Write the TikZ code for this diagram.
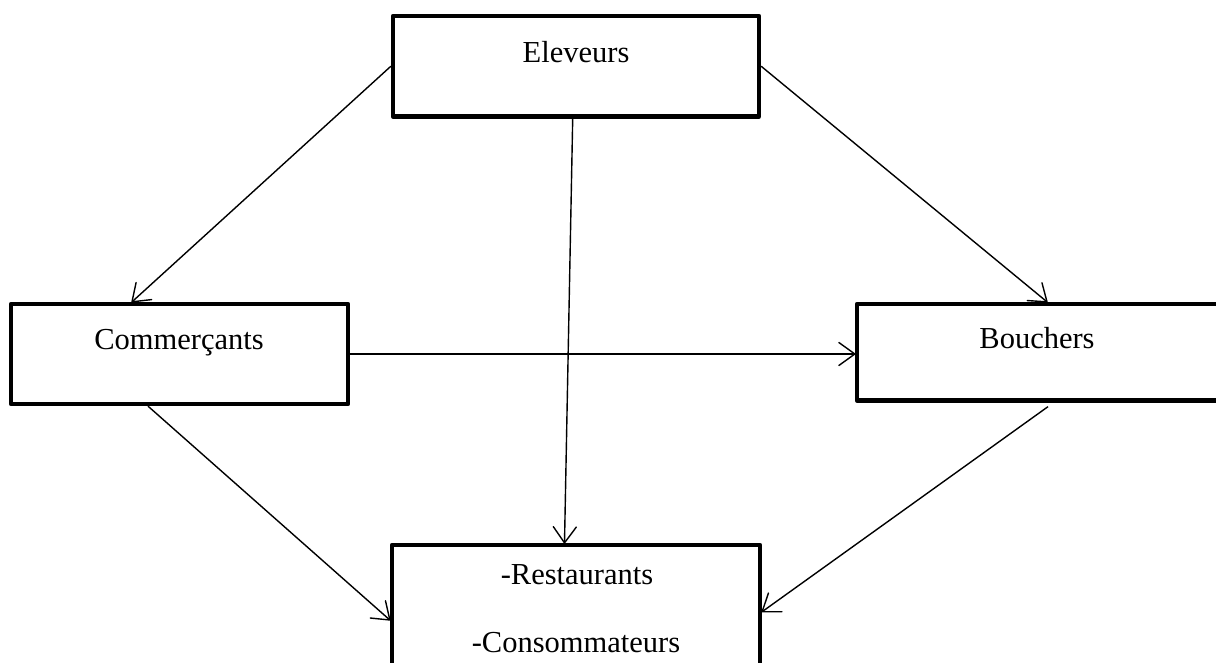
\documentclass[tikz,border=0pt]{standalone}
\usepackage{fontspec}
\setmainfont{Liberation Serif}
\usetikzlibrary{arrows.meta,calc}
\pgfdeclarearrow{
  name=VHead,
  parameters={\the\pgfarrowlength,\the\pgfarrowwidth},
  setup code={
    \pgfarrowssettipend{0pt}
    \pgfarrowssetlineend{-0.5\pgflinewidth}
    \pgfarrowssetvisualbackend{-\pgfarrowlength}
    \pgfarrowssetbackend{-\pgfarrowlength}
    \pgfarrowshullpoint{0pt}{0pt}
    \pgfarrowsupperhullpoint{-\pgfarrowlength}{.5\pgfarrowwidth}
    \pgfarrowssavethe\pgfarrowlength
    \pgfarrowssavethe\pgfarrowwidth
  },
  drawing code={
    \pgfsetdash{}{0pt}
    \pgfsetroundjoin
    \pgfsetroundcap
    \pgfpathmoveto{\pgfpoint{-\pgfarrowlength}{.5\pgfarrowwidth}}
    \pgfpathlineto{\pgfpointorigin}
    \pgfpathlineto{\pgfpoint{-\pgfarrowlength}{-.5\pgfarrowwidth}}
    \pgfusepathqstroke
  },
  defaults={length=16pt,width=23pt}
}
\tikzset{
  boxnode/.style={draw=black, line width=4.3pt, line join=round, rectangle, inner sep=0pt, fill=white},
  txt/.style={anchor=base, inner sep=0pt, font=\fontsize{30.5}{36}\selectfont},
  conn/.style={draw=black, line width=1.4pt, -{VHead[length=16pt,width=23pt]}}
}
\begin{document}
\begin{tikzpicture}[x=1pt,y=-1pt]
\useasboundingbox (0,0) rectangle (1216,663);
\node[boxnode, minimum width=366pt, minimum height=100.5pt] (E) at (576,66.25) {};
\node[boxnode, minimum width=337pt, minimum height=100pt] (C) at (179.5,354) {};
\node[boxnode, minimum width=363pt, minimum height=96.5pt] (B) at (1038.5,352.25) {};
\node[boxnode, minimum width=368pt, minimum height=145pt] (R) at (576,617.5) {};
\node[txt] (Et) at (576,63) {Eleveurs};
\node[txt] (Ct) at (179,349.3) {Commerçants};
\node[txt] (Bt) at (1037,348.3) {Bouchers};
\node[txt] (Rt1) at (577,584) {-Restaurants};
\node[txt] (Rt2) at (576,652) {-Consommateurs};
\draw[conn] (E.west) -- ([xshift=-47.5pt]C.north);
\draw[conn] (E.east) -- ([xshift=8.5pt]B.north);
\draw[conn] ([xshift=-3.3pt]E.south) -- ([xshift=-11.5pt]R.north);
\draw[conn] (C.east) -- (C.east -| B.west);
\draw[conn] ([xshift=-31.5pt]C.south) -- ([yshift=-2.5pt]R.west);
\draw[conn] ([xshift=9.5pt,yshift=-4pt]B.south) -- ([yshift=5.8pt]R.east);
\end{tikzpicture}
\end{document}
